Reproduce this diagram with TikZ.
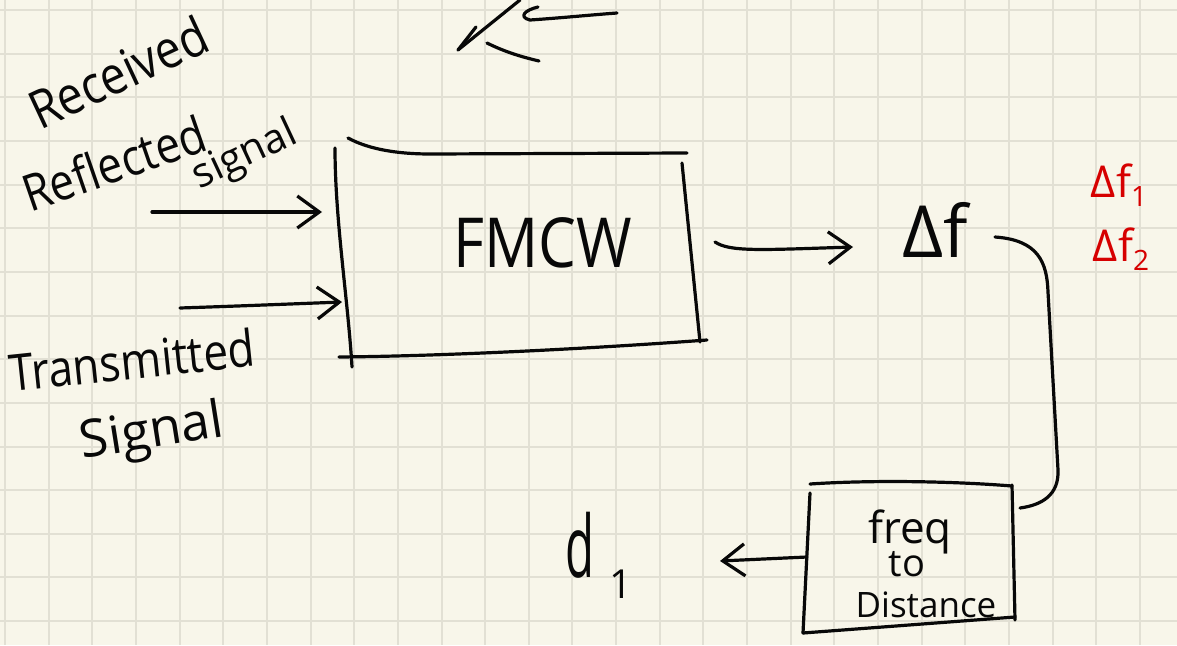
\documentclass[tikz,border=0pt]{standalone}
\usepackage{fontspec}
\setmainfont{Open Sans}
\newfontfamily\handfont{Open Sans}
\usetikzlibrary{arrows.meta}
\definecolor{paper}{RGB}{248,246,234}
\definecolor{gridline}{RGB}{226,224,212}
\definecolor{ink}{RGB}{8,8,8}
\definecolor{redink}{RGB}{214,0,0}
\newcommand{\fs}[1]{\handfont\fontsize{#1}{#1}\selectfont}
\tikzset{
  pen/.style={draw=ink, line width=3.2pt, line cap=round, line join=round},
  arr/.style={pen, -{Straight Barb[length=22pt,width=32pt,line width=3.2pt]}},
  gridrule/.style={draw=gridline, line width=2pt},
  hand/.style={inner sep=0pt, text=ink},
}
\begin{document}
\begin{tikzpicture}[x=1pt,y=-1pt]
% paper and squared ruling
\fill[paper] (0,0) rectangle (1177,645);
\useasboundingbox (0,0) rectangle (1177,645);
\foreach \i in {0,...,26} \draw[gridrule] ({5+43.65*\i},0) -- ({5+43.65*\i},645);
\foreach \j in {0,...,14} \draw[gridrule] (0,{10+43.65*\j}) -- (1177,{10+43.65*\j});

% labels on the left
\node[hand, rotate=25, font=\fs{46}, yscale=1.15] (received) at (118,72) {Received};
\node[hand, rotate=19, font=\fs{44}, yscale=1.15] (reflected) at (114,163) {Reflected};
\node[hand, rotate=25, font=\fs{41}] (signalA) at (245,156) {signal};
\node[hand, rotate=6, font=\fs{44}, yscale=1.15] (transmitted) at (132,360) {Transmitted};
\node[hand, rotate=9, font=\fs{52}] (signalB) at (152,434) {Signal};

% FMCW block
\node[hand, font=\fs{60}, yscale=1.15] (fmcw) at (543,243) {FMCW};
\draw[pen] (348,138) .. controls (370,150) and (400,154) .. (430,154) -- (687,153);
\draw[pen] (335,148) .. controls (335,220) and (348,300) .. (352,367);
\draw[pen] (339,357) .. controls (450,356) and (600,348) .. (707,340);
\draw[pen] (682,163) -- (700,342);

% inputs
\coordinate (rxStart) at (152,212);
\coordinate (rxEnd) at (322,212);
\coordinate (txStart) at (180,308);
\coordinate (txEnd) at (342,302);
\draw[arr] (rxStart) -- (rxEnd);
\draw[arr] (txStart) .. controls (240,306) and (290,304) .. (txEnd);

% beat frequency
\node[hand, font=\fs{72}] (df) at (935,230) {Δf};
\coordinate (outStart) at (715,242);
\coordinate (outEnd) at (853,247);
\draw[arr] (outStart) .. controls (730,252) and (760,250) .. (outEnd);

\node[hand, text=redink, font=\fs{44}] (df1) at (1119,185) {Δf\raisebox{-0.2em}{\fs{28}1}};
\node[hand, text=redink, font=\fs{44}] (df2) at (1121,249) {Δf\raisebox{-0.2em}{\fs{28}2}};

% frequency to distance block
\node[hand, anchor=base, font=\fs{44}] (fq) at (910,543) {freq};
\node[hand, anchor=base, font=\fs{38}] (fto) at (907,576) {to};
\node[hand, anchor=base, font=\fs{35}] (fdist) at (926,617) {Distance};
\draw[pen] (810,484) .. controls (870,480) and (950,481) .. (1012,486);
\draw[pen] (810,493) -- (803,633);
\draw[pen] (803,633) -- (1015,617);
\draw[pen] (1012,485) -- (1015,620);

% loop from the beat frequency down to the converter
\coordinate (loopEnd) at (1020,508);
\draw[pen] (995,237) .. controls (1038,240) and (1047,262) .. (1048,292)
  -- (1058,470) .. controls (1059,495) and (1042,505) .. (loopEnd);

% distance output
\node[hand, font=\fs{86}, xscale=0.55] (d1) at (580,545) {d};
\node[hand, font=\fs{40}] (d1sub) at (621,584) {1};
\coordinate (distStart) at (807,557);
\coordinate (distEnd) at (720,561);
\draw[arr] (distStart) -- (distEnd);

% stray sketch at the top
\draw[pen] (520,0) -- (458,50);
\draw[pen] (476,27) -- (458,50);
\draw[pen] (487,43) .. controls (505,52) and (522,57) .. (539,61);
\draw[pen] (538,7) .. controls (525,10) and (518,17) .. (530,20) .. controls (560,18) and (590,15) .. (617,13);
\end{tikzpicture}
\end{document}
